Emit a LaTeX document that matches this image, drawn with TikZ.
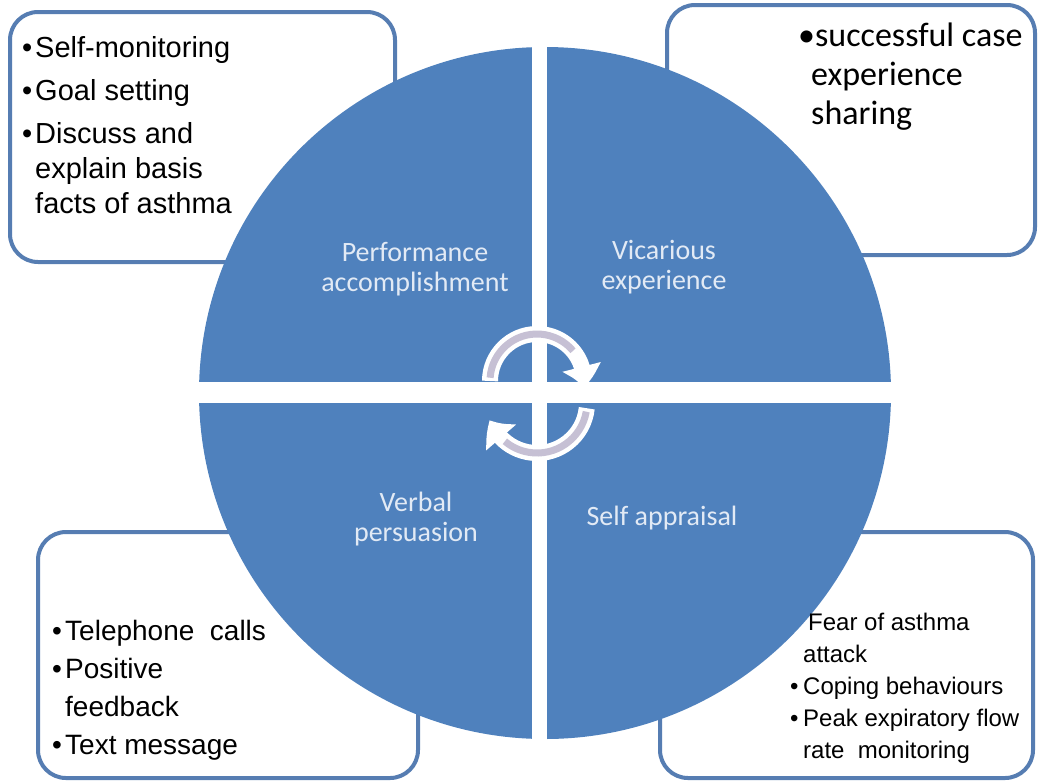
\documentclass[tikz,border=0pt]{standalone}
\usepackage{fontspec}
\setmainfont{Liberation Sans}
\newfontfamily\labfont{Carlito}
\usetikzlibrary{arrows.meta, bending}
\definecolor{pie}{RGB}{79, 129, 189}
\definecolor{frame}{RGB}{86, 125, 178}
\definecolor{pale}{RGB}{226, 234, 245}
\definecolor{loopgray}{RGB}{198, 192, 212}
\newcommand{\itm}{\makebox[13pt][l]{\textbullet}}
\newcommand{\contd}{\hspace*{13pt}}

\begin{document}
\begin{tikzpicture}[x=1pt, y=-1pt,
  box/.style={draw=frame, fill=white, line width=4pt, rounded corners=28pt},
  quarter/.style={text=pale, font=\labfont\fontsize{28}{30}\selectfont, align=center, inner sep=0pt},
  note/.style={anchor=north west, inner sep=0pt, align=left}]
  \useasboundingbox (0, 0) rectangle (1040, 782);

  % boxes behind the circle
  \foreach \l/\t/\r/\b in {10/12/395/262, 667/5/1035/255, 38/532/418/778, 660/532/1033/778}
    \filldraw[box] (\l, \t) rectangle (\r, \b);

  % circle cut in four
  \fill[pie] (545, 393) circle[radius=346];
  \fill[white] (532, 40) rectangle (547, 750);
  \fill[white] (190, 382) rectangle (900, 403);

  \node[quarter] (perf) at (415, 269) {Performance\\accomplishment};
  \node[quarter] (vica) at (664, 267) {Vicarious\\experience};
  \node[quarter] (verb) at (416, 519) {Verbal\\persuasion};
  \node[quarter] (appr) at (662, 518) {Self appraisal};

  % turning arrows
  \draw[white, line width=16pt, -{Triangle[width=38pt, length=21pt, bend]}]
    (537, 381) ++(-180:47) arc[start angle=-180, end angle=8, radius=47];
  \draw[loopgray, line width=7pt] (537, 381) ++(-176:47) arc[start angle=-176, end angle=-40, radius=47];
  \draw[white, line width=16pt, -{Triangle[width=38pt, length=21pt, bend]}]
    (537, 403) ++(6:50) arc[start angle=6, end angle=160, radius=50];
  \draw[loopgray, line width=7pt] (537, 403) ++(10:50) arc[start angle=10, end angle=130, radius=50];

  \node[note, font=\fontsize{29}{35}\selectfont] (tl) at (22, 36) {%
    \itm Self-monitoring\\[8pt]
    \itm Goal setting\\[8pt]
    \itm Discuss and\\
    \contd explain basis\\
    \contd facts of asthma};
  \node[note, font=\labfont\fontsize{34}{39}\selectfont] (tr) at (798, 23) {%
    \textbullet successful case\\
    \contd experience\\
    \contd sharing};
  \node[note, font=\fontsize{28}{38}\selectfont] (bl) at (52, 620) {%
    \itm Telephone \ calls\\
    \itm Positive\\
    \contd feedback\\
    \itm Text message};
  \node[note, font=\fontsize{24}{32}\selectfont] (br) at (790, 613) {%
    \contd\hspace*{5pt}Fear of asthma\\
    \contd attack\\
    \itm Coping behaviours\\
    \itm Peak expiratory flow\\
    \contd rate \ monitoring};
\end{tikzpicture}
\end{document}
